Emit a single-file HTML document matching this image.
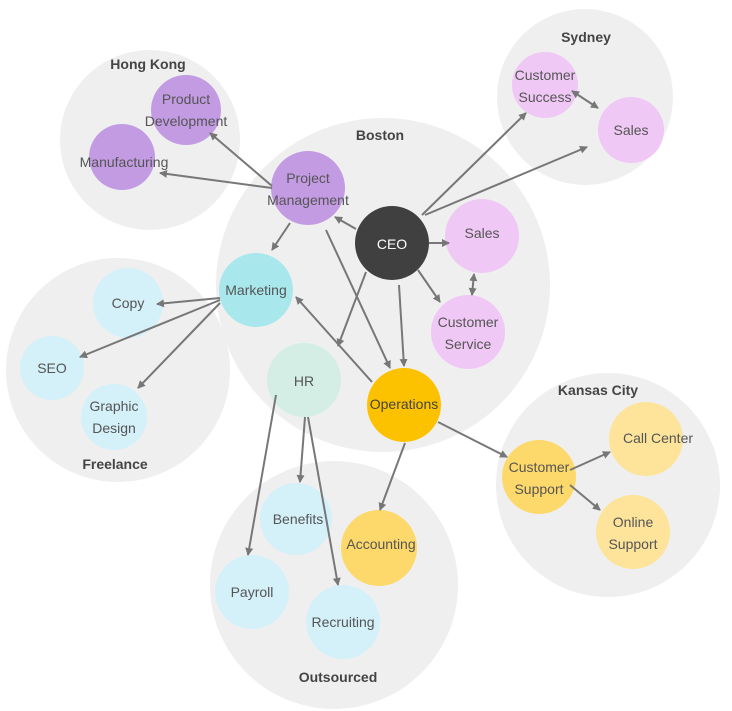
<!DOCTYPE html><html><head><style>body{margin:0;background:#fff}svg{display:block}text{font-family:"Liberation Sans",sans-serif;font-size:14px;fill:#555;text-anchor:middle}.t{font-weight:bold;fill:#444}</style></head><body>
<svg width="732" height="711" viewBox="0 0 732 711">
<defs><marker id="a" markerWidth="8" markerHeight="8" refX="7" refY="4" orient="auto" markerUnits="userSpaceOnUse"><path d="M0,0L8,4L0,8z" fill="#777"/></marker>
<marker id="b" markerWidth="8" markerHeight="8" refX="1" refY="4" orient="auto" markerUnits="userSpaceOnUse"><path d="M8,0L0,4L8,8z" fill="#777"/></marker></defs>
<g fill="#efefef">
<circle cx="383" cy="285" r="167"/><circle cx="150" cy="140" r="90"/><circle cx="585" cy="97" r="88"/>
<circle cx="118" cy="370" r="112"/><circle cx="334" cy="585" r="124"/><circle cx="608" cy="485" r="112"/></g>
<text class="t" x="148" y="69">Hong Kong</text><text class="t" x="586" y="42">Sydney</text><text class="t" x="380" y="140">Boston</text>
<text class="t" x="115" y="469">Freelance</text><text class="t" x="338" y="682">Outsourced</text><text class="t" x="598" y="395">Kansas City</text>
<g fill="#c39be3"><circle cx="186" cy="110" r="35"/><circle cx="122" cy="157" r="33"/><circle cx="308" cy="188" r="37"/></g>
<circle cx="392" cy="243" r="37" fill="#404040"/>
<g fill="#f0c8f5"><circle cx="482" cy="236" r="37"/><circle cx="468" cy="332" r="37"/><circle cx="545" cy="85" r="33"/><circle cx="631" cy="130" r="33"/></g>
<circle cx="256" cy="290" r="37" fill="#a8e8ec"/><circle cx="304" cy="380" r="37" fill="#d5eee5"/><circle cx="404" cy="405" r="37" fill="#fcc200"/>
<g fill="#d4f0f8"><circle cx="128" cy="303" r="35"/><circle cx="52" cy="368" r="32"/><circle cx="114" cy="417" r="33"/><circle cx="296" cy="519" r="36"/><circle cx="252" cy="592" r="37"/><circle cx="343" cy="622" r="37"/></g>
<circle cx="379" cy="548" r="38" fill="#fdd86a"/><circle cx="539" cy="477" r="37" fill="#fdd86a"/>
<g fill="#fde49a"><circle cx="646" cy="439" r="37"/><circle cx="633" cy="532" r="37"/></g>
<g stroke="#777" stroke-width="2" fill="none" marker-end="url(#a)">
<path d="M272,186L210,133"/><path d="M272,188L160,173"/><path d="M290,223L272,250"/><path d="M326,230L390,368"/>
<path d="M356,229L335,217"/><path d="M429,243L449,243"/><path d="M418,270L440,302"/><path d="M399,285L404,366"/>
<path d="M366,272L338,346"/><path d="M422,215L526,113"/><path d="M425,215L587,147"/><path d="M372,382L296,297"/>
<path d="M220,298L157,304"/><path d="M220,300L80,357"/><path d="M220,303L138,388"/>
<path d="M305,417L300,482"/><path d="M276,395L248,555"/><path d="M308,417L338,585"/>
<path d="M405,443L380,510"/><path d="M438,422L507,457"/><path d="M570,470L610,452"/><path d="M570,485L600,510"/></g>
<g stroke="#777" stroke-width="2" marker-end="url(#a)" marker-start="url(#b)"><path d="M474,274L472,295"/><path d="M572,91L598,108"/></g>
<text x="186" y="104">Product</text><text x="186" y="126">Development</text><text x="124" y="167">Manufacturing</text>
<text x="308" y="183">Project</text><text x="308" y="205">Management</text><text x="392" y="249" style="fill:#fff">CEO</text>
<text x="482" y="238">Sales</text><text x="468" y="327">Customer</text><text x="468" y="349">Service</text>
<text x="545" y="80">Customer</text><text x="545" y="102">Success</text><text x="631" y="135">Sales</text>
<text x="256" y="295">Marketing</text><text x="304" y="386">HR</text><text x="404" y="409" style="fill:#444">Operations</text>
<text x="128" y="308">Copy</text><text x="52" y="373">SEO</text><text x="114" y="411">Graphic</text><text x="114" y="433">Design</text>
<text x="298" y="524">Benefits</text><text x="381" y="549">Accounting</text><text x="252" y="597">Payroll</text><text x="343" y="627">Recruiting</text>
<text x="539" y="472">Customer</text><text x="539" y="494">Support</text><text x="658" y="443">Call Center</text>
<text x="633" y="527">Online</text><text x="633" y="549">Support</text>
</svg></body></html>
